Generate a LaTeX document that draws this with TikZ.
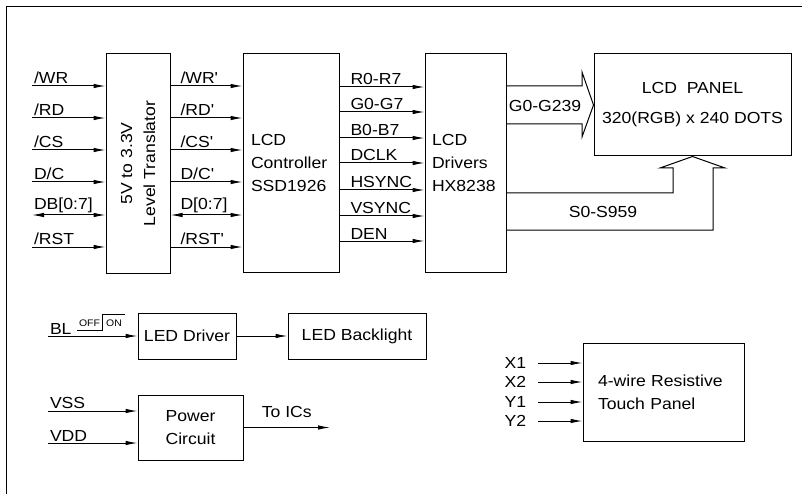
\documentclass[tikz,border=0pt]{standalone}
\usepackage{fontspec}
\setmainfont{Liberation Sans}[FakeStretch=1.1]
\usetikzlibrary{arrows.meta,positioning}

\begin{document}
\begin{tikzpicture}[x=1pt,y=-1pt,
		font=\fontsize{16}{23}\selectfont,
		box/.style={draw,line width=1pt,inner sep=0pt},
		sig/.style={line width=1pt,-{Latex[length=12pt,width=4.5pt]}},
		bus/.style={line width=1pt,{Latex[length=12pt,width=4.5pt]}-{Latex[length=12pt,width=4.5pt]}},
		lab/.style={pos=0,above right,inner sep=1.5pt}]
					\useasboundingbox (0,0) rectangle (802,494);
					\draw[line width=1pt] (6,494) -- (6,7) -- (802,7);
					% blocks
					\node[box,minimum width=64pt,minimum height=219pt](v1) at (138,163.5){};
					\node[rotate=90,align=center] at (v1.center){5V to 3.3V\\Level Translator};
					\node[box,minimum width=96pt,minimum height=218pt,text width=80pt,inner xsep=8pt,align=left](v2) at (291,163){LCD\\Controller\\SSD1926};
					\node[box,minimum width=81pt,minimum height=218pt,text width=67pt,inner xsep=7pt,align=left](v3) at (465.5,163){LCD\\Drivers\\HX8238};
					\node[box,minimum width=197pt,minimum height=102pt,align=center](v4) at (692.5,105){LCD~~PANEL\\[7pt]320(RGB) x 240 DOTS};
					\node[box,minimum width=98pt,minimum height=46pt](v5) at (187,336){LED Driver};
					\node[box,minimum width=138pt,minimum height=46pt](v6) at (357,336){LED Backlight};
					\node[box,minimum width=105pt,minimum height=65pt,align=center](v7) at (190.5,427.5){Power\\Circuit};
					\node[box,minimum width=161pt,minimum height=98pt,text width=131pt,inner xsep=15pt,align=left](v8) at (663.5,392){4-wire Resistive\\Touch Panel};
					% signal rows
					\coordinate (a1) at (32,86);
					\coordinate (a2) at (32,118);
					\coordinate (a3) at (32,150);
					\coordinate (a4) at (32,182);
					\coordinate (a5) at (32,215);
					\coordinate (a6) at (32,247);
					\coordinate (c1) at (0,87);
					\coordinate (c2) at (0,112);
					\coordinate (c3) at (0,138);
					\coordinate (c4) at (0,163);
					\coordinate (c5) at (0,190);
					\coordinate (c6) at (0,216);
					\coordinate (c7) at (0,241);
					\path[sig]
						(a1) edge node[lab] {/WR}(a1 -| v1.west)
						(a2) edge node[lab] {/RD}(a2 -| v1.west)
						(a3) edge node[lab] {/CS}(a3 -| v1.west)
						(a4) edge node[lab] {D/C}(a4 -| v1.west)
						(a6) edge node[lab] {/RST}(a6 -| v1.west)
						(a1 -| v1.east) edge node[lab,xshift=8pt] {/WR\textquotesingle}(a1 -| v2.west)
						(a2 -| v1.east) edge node[lab,xshift=8pt] {/RD\textquotesingle}(a2 -| v2.west)
						(a3 -| v1.east) edge node[lab,xshift=8pt] {/CS\textquotesingle}(a3 -| v2.west)
						(a4 -| v1.east) edge node[lab,xshift=8pt] {D/C\textquotesingle}(a4 -| v2.west)
						(a6 -| v1.east) edge node[lab,xshift=8pt] {/RST\textquotesingle}(a6 -| v2.west)
						(c1 -| v2.east) edge node[lab,xshift=9pt] {R0-R7}(c1 -| v3.west)
						(c2 -| v2.east) edge node[lab,xshift=9pt] {G0-G7}(c2 -| v3.west)
						(c3 -| v2.east) edge node[lab,xshift=9pt] {B0-B7}(c3 -| v3.west)
						(c4 -| v2.east) edge node[lab,xshift=9pt] {DCLK}(c4 -| v3.west)
						(c5 -| v2.east) edge node[lab,xshift=9pt] {HSYNC}(c5 -| v3.west)
						(c6 -| v2.east) edge node[lab,xshift=9pt] {VSYNC}(c6 -| v3.west)
						(c7 -| v2.east) edge node[lab,xshift=9pt] {DEN}(c7 -| v3.west);
					\path[bus]
						(a5) edge node[lab] {DB[0:7]}(a5 -| v1.west)
						(a5 -| v1.east) edge node[lab,xshift=8pt] {D[0:7]}(a5 -| v2.west);
					% gate and source buses
					\coordinate (g1) at (582,86);
					\coordinate (g2) at (582,72);
					\coordinate (g3) at (582,137);
					\coordinate (g4) at (582,124);
					\draw[line width=1pt] (g1 -| v3.east) -- (g1) -- (g2) -- (v4.west) -- (g3) -- (g4) -- (g4 -| v3.east);
					\node(gl) at (545,106){G0-G239};
					\coordinate (s1) at (673,193);
					\coordinate (s2) at (673,168);
					\coordinate (s3) at (660,168);
					\coordinate (s4) at (725,168);
					\coordinate (s5) at (713,168);
					\coordinate (s6) at (713,230);
					\draw[line width=1pt] (s1 -| v3.east) -- (s1) -- (s2) -- (s3) -- (v4.south) -- (s4) -- (s5) -- (s6) -- (s6 -| v3.east);
					\node(sl) at (603,212){S0-S959};
					% backlight, power, touch
					\coordinate (bl) at (48,336);
					\coordinate (p1) at (48,411);
					\coordinate (p2) at (48,443);
					\coordinate (ic) at (330,427.5);
					\coordinate (t1) at (538,363);
					\coordinate (t2) at (538,382);
					\coordinate (t3) at (538,402);
					\coordinate (t4) at (538,421);
					\draw[line width=0.8pt] (77,330) -- (102,330) -- (102,314) -- (125,314);
					\node[font=\fontsize{9.5}{10}\selectfont,inner sep=0pt](off) at (89.5,323.5){OFF};
					\node[font=\fontsize{9.5}{10}\selectfont,inner sep=0pt](on) at (114,323.5){ON};
					\path[sig]
						(bl) edge node[lab] {BL}(v5.west)
						(v5) edge node {}(v6)
						(p1) edge node[lab] {VSS}(p1 -| v7.west)
						(p2) edge node[lab] {VDD}(p2 -| v7.west)
						(v7.east) edge node[above,yshift=6pt] {To ICs}(ic)
						(t1) edge node[pos=0,left,xshift=-8pt] {X1}(t1 -| v8.west)
						(t2) edge node[pos=0,left,xshift=-8pt] {X2}(t2 -| v8.west)
						(t3) edge node[pos=0,left,xshift=-8pt] {Y1}(t3 -| v8.west)
						(t4) edge node[pos=0,left,xshift=-8pt] {Y2}(t4 -| v8.west);
				\end{tikzpicture}
\end{document}
